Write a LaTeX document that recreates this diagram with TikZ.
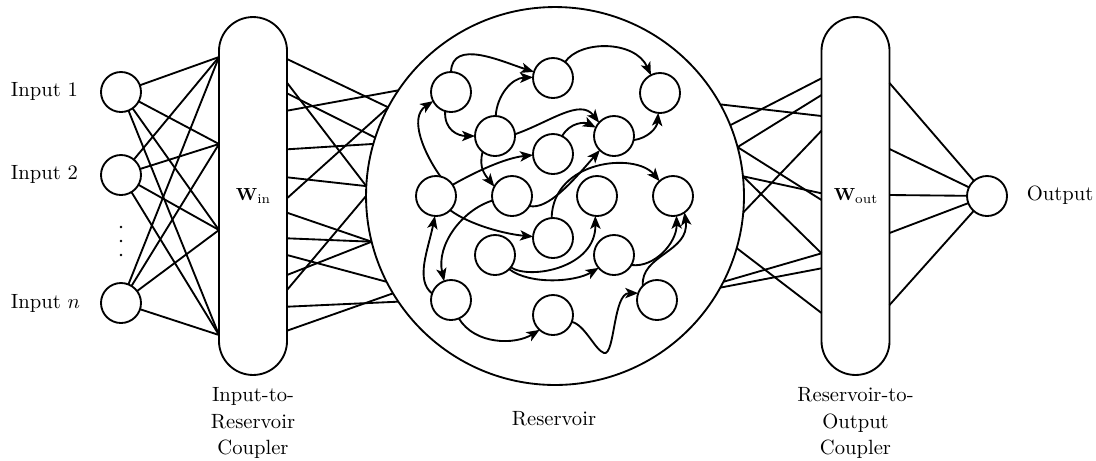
\documentclass[tikz,border=0pt]{standalone}
\usepackage{fontspec}
\usetikzlibrary{arrows.meta}
\newcommand{\wlab}[1]{{\fontsize{8.5}{9}\selectfont\textbf{W}}\raisebox{-1.5pt}{\fontsize{6.5}{7}\selectfont #1}}
\begin{document}
\begin{tikzpicture}[x=0.485pt,y=-0.485pt,line width=0.9pt,
  neuron/.style={circle,draw,minimum size=19.4pt,inner sep=0pt,outer sep=0pt},
  pill/.style={rectangle,draw,rounded corners=16.5pt,minimum width=33pt,minimum height=173.6pt,inner sep=0pt,outer sep=0pt},
  resv/.style={circle,draw,minimum size=183.3pt,inner sep=0pt,outer sep=0pt},
  arr/.style={-{Stealth[length=6.3pt,width=5pt,inset=1.6pt]}},
  lbl/.style={inner sep=0pt,font=\fontsize{10}{13}\selectfont}]
\useasboundingbox (0,0) rectangle (1096,460);

% main blocks
\node[resv] (res) at (555,196) {};
\node[pill] (win) at (253,196) {\wlab{in}};
\node[pill] (wout) at (855.5,196) {\wlab{out}};

% input / output neurons
\node[neuron] (in1) at (121,92) {};
\node[neuron] (in2) at (121,175) {};
\node[neuron] (inn) at (121,303) {};
\node[neuron] (out) at (987,196) {};

% labels
\node[lbl,anchor=west] (l1) at (10,91) {Input 1};
\node[lbl,anchor=west] (l2) at (10,174.5) {Input 2};
\node[lbl,anchor=west] (ln) at (10,303) {Input $n$};
\node[lbl,anchor=west] (lo) at (1026,195.5) {Output};
\node[lbl,align=center] (lwin) at (253,423) {Input-to-\\Reservoir\\Coupler};
\node[lbl] (lres) at (554,419) {Reservoir};
\node[lbl,align=center] (lwout) at (855.5,423) {Reservoir-to-\\Output\\Coupler};

% vertical dots
\fill (121,227) circle[radius=1.4];
\fill (121,241) circle[radius=1.4];
\fill (121,255) circle[radius=1.4];

% coupler edge points
\foreach \k/\y in {1/57,2/144,3/230,4/335} \coordinate (wiL\k) at (219,\y);
\foreach \k/\y in {1/59,2/82.7,3/93.3,4/110.7,5/149.3,6/177.3,7/198.3,8/212.7,9/238.3,10/255,11/275,12/290,13/306.7,14/330.7}
  \coordinate (wiR\k) at (287,\y);
\foreach \k/\y in {1/78.3,2/95,3/116,4/130.7,5/193.3,6/200,7/253.3,8/268.3,9/313}
  \coordinate (woL\k) at (821.5,\y);
\foreach \k/\y in {1/83,2/149,3/195,4/233,5/305}
  \coordinate (woR\k) at (889.5,\y);

% input -> coupler
\foreach \i in {in1,in2,inn} \foreach \j in {1,...,4} \draw (\i) -- (wiL\j);
% coupler -> reservoir
\foreach \k/\a in {1/152.2,2/177.5,3/162.2,4/146.6,5/164.3,6/177.5,7/152.2,8/194.7,9/194.7,10/207.3,11/194.7,12/180.2,13/214.3,14/211.7}
  \draw (wiR\k) -- (res.\a);
% reservoir -> coupler
\foreach \a/\k in {29.7/3,22.1/1,15/2,15/6,6.9/5,6.9/7,-5.3/4,-16.1/9,-27.2/7,-29/8}
  \draw (res.\a) -- (woL\k);
% coupler -> output
\foreach \k in {1,...,5} \draw (woR\k) -- (out);

% reservoir neurons
\node[neuron] (N1) at (451,92) {};
\node[neuron] (N2) at (553,78) {};
\node[neuron] (N3) at (660,93) {};
\node[neuron] (N4) at (495,136) {};
\node[neuron] (N5) at (553,154) {};
\node[neuron] (N6) at (614,136) {};
\node[neuron] (N7) at (436,196) {};
\node[neuron] (N8) at (512,196) {};
\node[neuron] (N9) at (597,196) {};
\node[neuron] (N10) at (673,196) {};
\node[neuron] (N11) at (553,238) {};
\node[neuron] (N12) at (495,255) {};
\node[neuron] (N13) at (614,255) {};
\node[neuron] (N14) at (451,300) {};
\node[neuron] (N15) at (553,315) {};
\node[neuron] (N16) at (657,300) {};

% reservoir connections
\draw[arr] (N1.90) .. controls (452,38) and (503,62) .. (N2.162);
\draw[arr] (N2.53) .. controls (580,40) and (635,40) .. (N3.117);
\draw[arr] (N1.253) .. controls (444,130) and (458,136) .. (N4.180);
\draw[arr] (N4.88) .. controls (497,95) and (512,78) .. (N2.178);
\draw[arr] (N4.5) .. controls (550,122) and (580,98) .. (N6.138);
\draw[arr] (N5.63) .. controls (570,122) and (585,122) .. (N6.155);
\draw[arr] (N6.-12) .. controls (648,138) and (657,128) .. (N3.-95);
\draw[arr] (N7.77) .. controls (425,155) and (408,118) .. (N1.207);
\draw[arr] (N7.34) .. controls (475,172) and (505,158) .. (N5.183);
\draw[arr] (N4.232) .. controls (478,168) and (486,176) .. (N8.152);
\draw[arr] (N8.-30) .. controls (548,210) and (572,182) .. (N6.225);
\draw[arr] (N11.94) .. controls (553,160) and (635,152) .. (N10.132);
\draw[arr] (N7.-45) .. controls (470,225) and (505,234) .. (N11.176);
\draw[arr] (N8.193) .. controls (462,210) and (436,245) .. (N14.110);
\draw[arr] (N14.161) .. controls (415,280) and (428,250) .. (N7.-93);
\draw[arr] (N12.-38) .. controls (530,280) and (596,268) .. (N9.-95);
\draw[arr] (N12.-45) .. controls (530,285) and (575,282) .. (N13.220);
\draw[arr] (N13.-30) .. controls (655,268) and (677,242) .. (N10.-80);
\draw[arr] (N16.135) .. controls (640,255) and (690,252) .. (N10.-55);
\draw[arr] (N14.-67) .. controls (475,345) and (515,345) .. (N15.228);
\draw[arr] (N15.-20) .. controls (585,325) and (595,350) .. (604,353)
  .. controls (615,356) and (613,293) .. (N16.160);
\end{tikzpicture}
\end{document}
